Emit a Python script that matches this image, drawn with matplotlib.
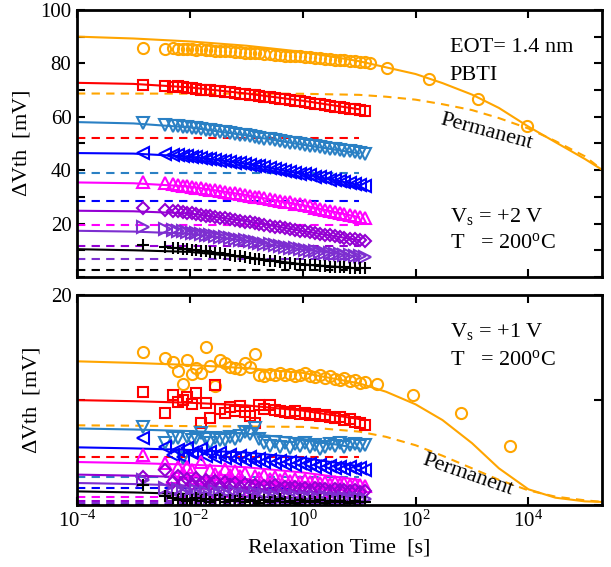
import matplotlib
matplotlib.use('Agg')
import matplotlib.pyplot as plt

plt.rcParams['font.family'] = ['Liberation Serif', 'DejaVu Serif']
plt.rcParams['mathtext.fontset'] = 'custom'
plt.rcParams['mathtext.rm'] = 'Liberation Serif'
plt.rcParams['mathtext.it'] = 'Liberation Serif:italic'
plt.rcParams['mathtext.bf'] = 'Liberation Serif:bold'

# ---------------- data ----------------
# measured relaxation times (s), shared by all series
t_meas = [0.0015, 0.0036, 0.0050, 0.0062, 0.0075, 0.0090, 0.011, 0.013, 0.016, 0.019,
          0.023, 0.028, 0.034, 0.042, 0.052, 0.064, 0.078, 0.095, 0.115, 0.14,
          0.17, 0.21, 0.26, 0.32, 0.39, 0.48, 0.59, 0.72, 0.88, 1.08,
          1.32, 1.62, 2.0, 2.45, 3.0, 3.7, 4.5, 5.5, 6.8, 8.3,
          10.2, 12.5]

# Vs = +2 V (top panel), measured dVth (mV)
top_orange = [85.8, 85.5, 85.6, 85.3, 85.5, 85.2, 85.3, 85.0, 85.2, 84.9,
              84.9, 84.7, 84.8, 84.5, 84.5, 84.2, 84.3, 84.0, 84.0, 83.7,
              83.8, 83.5, 83.5, 83.2, 83.2, 82.9, 82.9, 82.6, 82.6, 82.3,
              82.3, 82.0, 81.9, 81.7, 81.6, 81.4, 81.3, 81.1, 81.0, 80.8,
              80.6, 80.4]
top_red = [72.0, 71.5, 71.3, 71.6, 71.0, 70.8, 70.6, 70.5, 70.2, 70.1,
           69.9, 69.7, 69.5, 69.3, 69.1, 68.9, 68.7, 68.5, 68.2, 68.0,
           67.8, 67.5, 67.3, 67.0, 66.8, 66.5, 66.3, 66.0, 65.8, 65.5,
           65.2, 64.9, 64.7, 64.4, 64.1, 63.8, 63.6, 63.3, 63.0, 62.8,
           62.5, 62.2]
top_steel = [57.5, 56.9, 56.6, 56.4, 56.2, 56.0, 55.8, 55.6, 55.4, 55.1,
             54.9, 54.7, 54.4, 54.2, 53.9, 53.6, 53.3, 53.0, 52.7, 52.4,
             52.1, 51.8, 51.5, 51.2, 50.9, 50.6, 50.3, 50.0, 49.7, 49.4,
             49.2, 48.9, 48.6, 48.3, 48.0, 47.8, 47.5, 47.2, 47.0, 46.7,
             46.4, 46.2]
top_blue = [46.3, 46.0, 45.8, 45.6, 45.4, 45.2, 45.0, 44.8, 44.6, 44.3,
            44.1, 43.9, 43.6, 43.4, 43.1, 42.8, 42.6, 42.3, 42.0, 41.7,
            41.4, 41.1, 40.8, 40.5, 40.1, 39.8, 39.4, 39.1, 38.7, 38.4,
            38.0, 37.6, 37.3, 36.9, 36.5, 36.2, 35.8, 35.5, 35.1, 34.8,
            34.4, 34.1]
top_magenta = [35.7, 35.2, 34.8, 34.5, 34.2, 34.0, 33.7, 33.5, 33.2, 33.0,
               32.7, 32.5, 32.2, 31.9, 31.6, 31.3, 31.0, 30.7, 30.4, 30.1,
               29.8, 29.5, 29.2, 28.9, 28.6, 28.2, 27.9, 27.5, 27.2, 26.8,
               26.4, 26.0, 25.6, 25.2, 24.8, 24.4, 24.0, 23.6, 23.2, 22.8,
               22.4, 22.0]
top_violet = [26.0, 25.2, 24.8, 24.6, 24.3, 24.1, 23.8, 23.6, 23.3, 23.0,
              22.8, 22.5, 22.2, 21.9, 21.6, 21.3, 21.0, 20.7, 20.4, 20.1,
              19.8, 19.5, 19.2, 18.9, 18.6, 18.3, 18.0, 17.7, 17.4, 17.1,
              16.8, 16.5, 16.2, 15.9, 15.6, 15.3, 15.0, 14.7, 14.4, 14.1,
              13.8, 13.5]
top_purple = [18.6, 17.8, 17.5, 17.3, 17.1, 16.9, 16.6, 16.4, 16.1, 15.9,
              15.6, 15.4, 15.1, 14.8, 14.5, 14.2, 14.0, 13.7, 13.4, 13.1,
              12.8, 12.5, 12.2, 11.9, 11.6, 11.3, 11.0, 10.7, 10.4, 10.1,
              9.8, 9.6, 9.3, 9.1, 8.9, 8.7, 8.5, 8.3, 8.1, 7.9,
              7.7, 7.5]
top_black = [12.0, 11.3, 11.0, 10.8, 10.6, 10.4, 10.2, 10.0, 9.8, 9.6,
             9.4, 9.1, 8.9, 8.6, 8.3, 8.0, 7.8, 7.5, 7.2, 6.9,
             6.6, 6.3, 6.0, 5.8, 5.6, 5.4, 5.2, 5.0, 4.8, 4.6,
             4.5, 4.3, 4.2, 4.0, 3.9, 3.8, 3.7, 3.6, 3.5, 3.4,
             3.3, 3.2]

# Vs = +1 V (bottom panel), measured dVth (mV)
bot_orange = [14.6, 14.0, 13.6, 12.8, 11.5, 13.8, 12.5, 13.1, 12.6, 15.1,
              13.3, 11.3, 13.8, 13.5, 13.2, 13.1, 13.0, 13.5, 13.2, 14.4,
              12.4, 12.3, 12.5, 12.4, 12.6, 12.4, 12.5, 12.3, 12.4, 12.6,
              12.3, 12.2, 12.4, 12.1, 12.3, 12.0, 11.9, 12.1, 11.8, 11.9,
              11.6, 11.7]
bot_red = [10.8, 8.8, 10.5, 9.8, 10.0, 10.3, 9.6, 10.7, 7.8, 9.7,
           8.3, 11.4, 9.2, 8.8, 9.3, 9.0, 9.4, 8.9, 8.5, 7.8,
           9.5, 9.2, 9.5, 9.1, 9.0, 8.9, 8.8, 9.0, 8.7, 8.8,
           8.6, 8.7, 8.5, 8.6, 8.4, 8.3, 8.4, 8.1, 8.2, 7.9,
           7.8, 7.6]
bot_steel = [7.4, 5.9, 6.4, 6.4, 4.5, 6.5, 6.2, 6.4, 6.9, 6.3,
             5.9, 6.4, 6.2, 6.2, 6.5, 6.3, 6.6, 7.0, 6.8, 7.3,
             6.3, 5.9, 5.6, 6.0, 5.5, 5.9, 5.4, 5.8, 5.6, 5.9,
             5.5, 5.7, 5.3, 5.5, 5.8, 5.6, 5.9, 5.5, 5.7, 5.8,
             5.6, 5.7]
bot_blue = [6.4, 5.5, 4.8, 5.2, 4.6, 5.4, 5.0, 4.9, 5.3, 4.7,
            5.1, 4.6, 5.0, 4.5, 4.8, 4.4, 4.7, 4.3, 4.6, 4.2,
            4.4, 4.1, 4.3, 4.0, 4.2, 3.9, 4.1, 3.8, 4.0, 3.8,
            3.9, 3.6, 3.8, 3.5, 3.7, 3.5, 3.6, 3.4, 3.6, 3.4,
            3.5, 3.3]
bot_magenta = [4.8, 4.0, 2.7, 3.6, 3.1, 3.6, 3.3, 2.6, 4.1, 2.1,
               3.3, 3.0, 2.7, 3.4, 2.9, 3.2, 2.8, 3.1, 1.4, 2.8,
               2.6, 2.9, 2.5, 2.7, 2.4, 2.6, 2.3, 2.5, 2.2, 2.4,
               2.2, 2.3, 2.1, 2.2, 2.0, 2.2, 2.0, 2.1, 1.9, 2.0,
               1.9, 1.8]
bot_violet = [2.7, 3.3, 2.2, 2.8, 2.2, 2.5, 2.0, 2.6, 2.1, 2.4,
              1.9, 2.3, 1.8, 2.2, 1.9, 2.1, 1.7, 2.0, 1.8, 1.9,
              1.6, 1.8, 1.7, 1.9, 1.5, 1.7, 1.6, 1.7, 1.5, 1.6,
              1.4, 1.6, 1.5, 1.5, 1.3, 1.5, 1.4, 1.4, 1.3, 1.4,
              1.2, 1.3]
bot_purple = [2.4, 1.6, 0.8, 1.5, 1.1, 1.3, 0.9, 1.4, 1.0, 1.2,
              0.8, 1.3, 1.0, 1.1, 0.9, 1.2, 0.8, 1.0, 0.9, 1.1,
              0.7, 1.0, 0.8, 0.9, 0.7, 0.9, 0.8, 0.9, 0.7, 0.8,
              0.7, 0.8, 0.6, 0.8, 0.7, 0.7, 0.6, 0.7, 0.6, 0.7,
              0.6, 0.6]
bot_black = [1.9, 0.9, 0.7, 0.5, 0.6, 0.4, 0.5, 0.7, 0.4, 0.6,
             0.3, 0.5, 0.6, 0.3, 0.5, 0.4, 0.6, 0.3, 0.5, 0.4,
             0.2, 0.5, 0.3, 0.4, 0.6, 0.3, 0.4, 0.2, 0.5, 0.3,
             0.4, 0.3, 0.5, 0.2, 0.4, 0.3, 0.4, 0.3, 0.2, 0.4,
             0.3, 0.3]

# long-time points of the largest stress series
t_long_top = [15.4, 31, 170, 1260, 9600]
dvth_long_top = [80.2, 78.4, 74.3, 66.8, 56.7]
t_long_bot = [21, 89, 630, 4800]
dvth_long_bot = [11.5, 10.5, 8.8, 5.6]

# model fits (solid lines)
t_fit = [1e-4, 1e-3, 1e-2, 1e-1, 1, 10]
t_fit_long = [1e-4, 1e-3, 1e-2, 1e-1, 1, 10, 30, 100, 300, 1000, 3000, 1e4, 3e4, 1e5, 2e5]
fit_top_orange = [90.0, 89.3, 88.2, 86.6, 84.3, 80.8, 78.5, 76.0, 72.6, 68.3, 63.3, 56.3, 50.5, 44.2, 40.2]
fit_top = [[72.7, 72.3, 71.0, 68.7, 66.0, 62.8],
           [58.0, 57.5, 56.0, 53.0, 49.5, 46.3],
           [46.4, 46.2, 45.1, 42.4, 38.6, 34.4],
           [35.4, 35.1, 33.9, 30.7, 26.9, 22.4],
           [24.8, 24.6, 23.8, 20.9, 17.2, 13.8],
           [17.3, 17.0, 16.2, 13.6, 10.3, 7.7],
           [10.4, 10.0, 9.4, 7.4, 4.7, 3.2]]
fit_bot_orange = [13.7, 13.55, 13.35, 13.05, 12.6, 11.6, 10.8, 9.6, 8.1, 5.9, 3.5, 1.5, 0.7, 0.35, 0.3]
fit_bot = [[10.0, 9.9, 9.75, 9.5, 9.0, 8.2],
           [7.3, 7.2, 7.05, 6.8, 6.3, 5.4],
           [5.5, 5.4, 5.25, 5.0, 4.5, 3.7],
           [4.1, 4.0, 3.85, 3.6, 3.1, 2.4],
           [2.9, 2.8, 2.65, 2.4, 2.0, 1.5],
           [2.1, 2.0, 1.85, 1.6, 1.3, 0.9],
           [1.3, 1.2, 1.05, 0.85, 0.6, 0.35]]

# permanent component (dashed lines)
t_perm = [1e-4, 10]
t_perm_long = [1e-4, 1, 10, 30, 100, 300, 1000, 3000, 1e4, 3e4, 1e5, 2e5]
perm_top_orange = [68.7, 68.6, 68.2, 67.5, 66.4, 64.7, 62.5, 59.5, 55.6, 50.9, 45.2, 40.2]
perm_bot_orange = [7.6, 7.45, 7.0, 6.5, 5.7, 4.7, 3.5, 2.4, 1.4, 0.8, 0.45, 0.3]
perm_top = [52.2, 39.0, 28.5, 19.3, 11.7, 6.7, 2.7]
perm_bot = [4.6, 2.7, 1.6, 0.8, 0.4, 0.15, 0.0]

# ---------------- style ----------------
colors = ['#FFA500', '#FF0000', '#2A80C4', '#0000FF', '#FF00FF', '#9400D3', '#7D2FD0', '#000000']
markers = ['o', 's', 'v', '<', '^', 'D', '>', '+']
msizes = [8, 7.5, 8, 8, 8, 6.5, 8, 9]


def draw_panel(ax, meas, fit_orange, fits, perm_orange, perms, t_long, dvth_long):
    # dashed permanent parts
    ax.plot(t_perm_long, perm_orange, color=colors[0], lw=1.5, dashes=(4, 3))
    for c, p in zip(colors[1:], perms):
        ax.plot(t_perm, [p, p], color=c, lw=1.5, dashes=(4, 3))
    # solid fits
    ax.plot(t_fit_long, fit_orange, color=colors[0], lw=1.5)
    for c, f in zip(colors[1:], fits):
        ax.plot(t_fit, f, color=c, lw=1.5)
    # measured data
    for c, m, ms, y in zip(colors, markers, msizes, meas):
        ax.plot(t_meas, y, ls='none', marker=m, ms=ms, mfc='none', mec=c, mew=1.5)
    ax.plot(t_long, dvth_long, ls='none', marker='o', ms=8, mfc='none',
            mec=colors[0], mew=1.5)

    ax.set_xscale('log')
    ax.set_xlim(1e-4, 2e5)
    ax.set_xticks([1e-4, 1e-2, 1, 1e2, 1e4])
    ax.minorticks_off()
    ax.tick_params(direction='in', length=6, width=1.5, top=True, right=True,
                   labelsize=15, pad=4)
    for s in ax.spines.values():
        s.set_linewidth(2)
    ax.set_ylabel(r'$\Delta$Vth  [mV]', fontsize=16, labelpad=6)


fig = plt.figure(figsize=(6.11, 5.67), dpi=100)
ax1 = fig.add_axes([0.126, 0.5115, 0.859, 0.471])
ax2 = fig.add_axes([0.126, 0.1093, 0.859, 0.370])

draw_panel(ax1, [top_orange, top_red, top_steel, top_blue, top_magenta, top_violet, top_purple, top_black],
           fit_top_orange, fit_top, perm_top_orange, perm_top, t_long_top, dvth_long_top)
draw_panel(ax2, [bot_orange, bot_red, bot_steel, bot_blue, bot_magenta, bot_violet, bot_purple, bot_black],
           fit_bot_orange, fit_bot, perm_bot_orange, perm_bot, t_long_bot, dvth_long_bot)

ax1.set_ylim(0, 100)
ax1.set_yticks(range(0, 101, 10))
ax1.set_yticklabels(['', '', '20', '', '40', '', '60', '', '80', '', '100'])
ax1.tick_params(labelbottom=False)

ax2.set_ylim(0, 20)
ax2.set_yticks([0, 10, 20])
ax2.set_yticklabels(['', '', '20'])
ax2.set_xticklabels([r'10$^{\mathregular{-4}}$', r'10$^{\mathregular{-2}}$', r'10$^{\mathregular{0}}$',
                     r'10$^{\mathregular{2}}$', r'10$^{\mathregular{4}}$'])
ax2.set_xlabel('Relaxation Time  [s]', fontsize=16, labelpad=5)

ax1.text(0.71, 0.843, 'EOT= 1.4 nm', transform=ax1.transAxes, fontsize=16)
ax1.text(0.71, 0.738, 'PBTI', transform=ax1.transAxes, fontsize=16)
ax1.text(0.71, 0.206, r'V$_\mathregular{s}$ = +2 V', transform=ax1.transAxes, fontsize=16)
ax1.text(0.71, 0.109, r'T   = 200$^\mathregular{o}$C', transform=ax1.transAxes, fontsize=16)
ax1.text(0.781, 0.543, 'Permanent', transform=ax1.transAxes, fontsize=16,
         rotation=-15, ha='center', va='center')

ax2.text(0.71, 0.80, r'V$_\mathregular{s}$ = +1 V', transform=ax2.transAxes, fontsize=16)
ax2.text(0.71, 0.667, r'T   = 200$^\mathregular{o}$C', transform=ax2.transAxes, fontsize=16)
ax2.text(0.745, 0.143, 'Permanent', transform=ax2.transAxes, fontsize=16,
         rotation=-19, ha='center', va='center')

fig.savefig('out.png', dpi=100)
